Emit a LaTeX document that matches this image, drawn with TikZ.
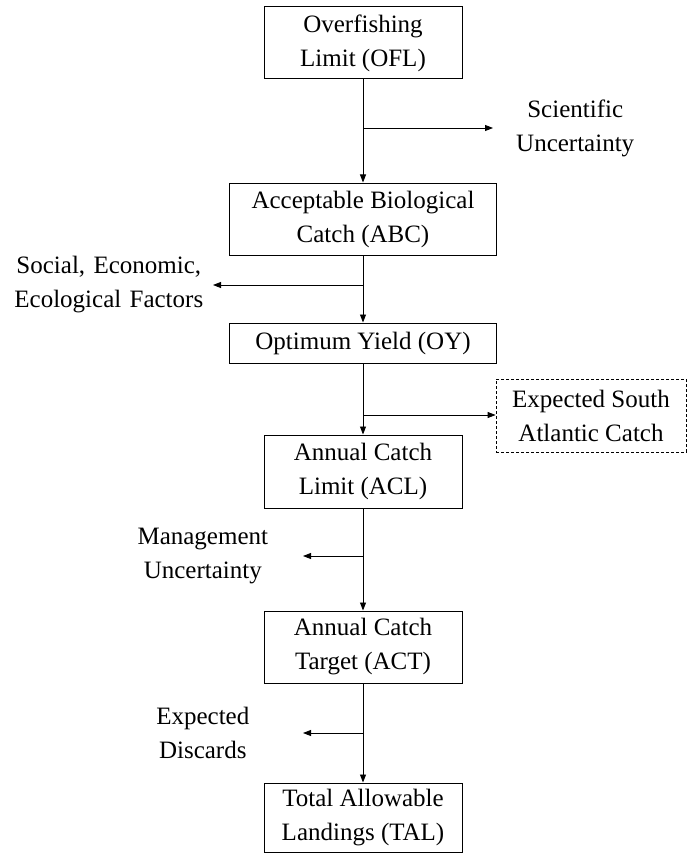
\documentclass[tikz,border=0pt]{standalone}
\usepackage{fontspec}
\setmainfont{Liberation Serif}
\usetikzlibrary{arrows.meta}

\tikzset{
 box/.style={draw,line width=1pt,align=center,inner sep=0pt},
 sidebox/.style={draw,line width=0.8pt,dash pattern=on 3pt off 2pt,align=center,inner sep=0pt},
 note/.style={align=center,inner sep=0pt},
 flow/.style={line width=0.9pt,-{Triangle[length=8pt,width=6pt]}}
}

\begin{document}
\begin{tikzpicture}[x=1pt,y=-1pt,font=\fontsize{25}{34}\selectfont]
\useasboundingbox (0,0) rectangle (687,853);

% main column
\node[box,minimum width=198pt,minimum height=72pt] (ofl) at (363,43) {Overfishing\\Limit (OFL)};
\node[box,minimum width=267pt,minimum height=72pt] (abc) at (363,219) {Acceptable Biological\\Catch (ABC)};
\node[box,minimum width=267pt,minimum height=40pt] (oy) at (363,343) {Optimum Yield (OY)};
\node[box,minimum width=198pt,minimum height=73pt] (acl) at (363,471.5) {Annual Catch\\Limit (ACL)};
\node[box,minimum width=198pt,minimum height=72pt] (act) at (363,647) {Annual Catch\\Target (ACT)};
\node[box,minimum width=198pt,minimum height=69pt] (tal) at (363,817.5) {Total Allowable\\Landings (TAL)};

% side labels
\node[note,anchor=west,text width=164pt] (sci) at (493,128) {Scientific\\Uncertainty};
\node[note,anchor=east,text width=208pt] (soc) at (213,285) {Social, Economic,\\Ecological Factors};
\node[sidebox,minimum width=190pt,minimum height=73pt] (sac) at (591,415.5) {Expected South\\Atlantic Catch};
\node[note,anchor=east,text width=200pt] (mgt) at (303,556) {Management\\Uncertainty};
\node[note,anchor=east,text width=200pt] (dis) at (303,733) {Expected\\Discards};

% branch points
\coordinate (b1) at (363,128);
\coordinate (b2) at (363,285);
\coordinate (b3) at (363,415);
\coordinate (b4) at (363,556);
\coordinate (b5) at (363,733);

\foreach \a/\b in {ofl/abc,abc/oy,oy/acl,acl/act,act/tal}
 \draw[flow] (\a.south) -- (\b.north);

\draw[flow] (b1) -- (sci.west);
\draw[flow] (b2) -- (soc.east);
\draw[flow] (b3) -- (b3 -| sac.west);
\draw[flow] (b4) -- (mgt.east);
\draw[flow] (b5) -- (dis.east);

\end{tikzpicture}
\end{document}
